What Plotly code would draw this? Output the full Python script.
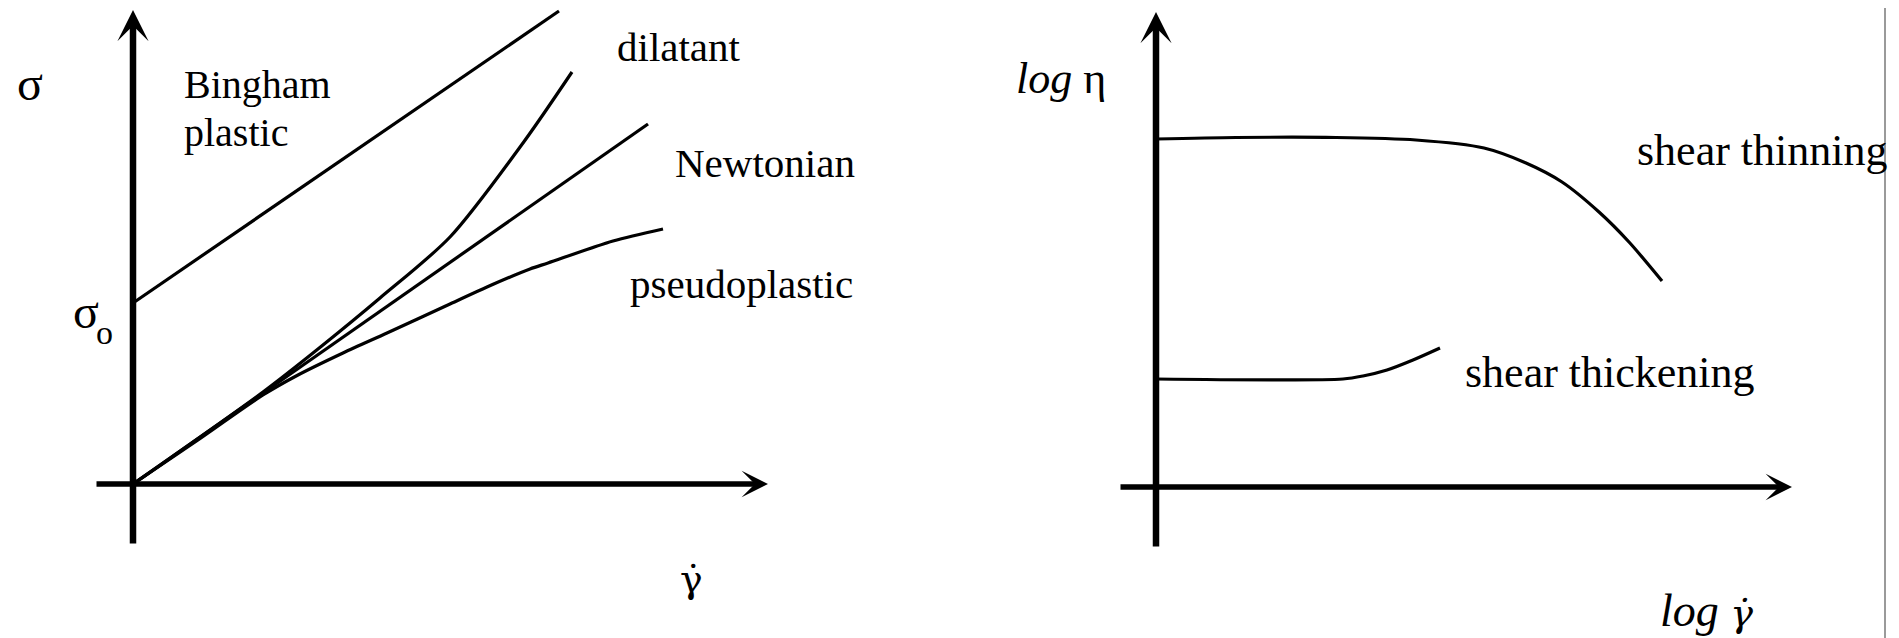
import plotly.graph_objects as go

W, H = 1899, 638
PX = 50  # pixels per data unit in both panels
FONT = "Liberation Serif"

# ---- Left panel: flow curves (shear stress vs shear rate), arbitrary units ----
newtonian_rate = [0.0, 10.3]
newtonian_stress = [0.0, 7.2]

bingham_rate = [0.0, 8.52]
bingham_stress = [3.62, 9.46]

dilatant_rate = [0.0, 2.6, 3.7, 4.94, 6.34, 7.8, 8.78]
dilatant_stress = [0.0, 1.84, 2.7, 3.72, 4.94, 6.82, 8.24]

pseudo_rate = [0.0, 1.3, 2.6, 3.3, 4.2, 5.08, 6.34, 7.08, 7.94, 8.3, 9.6, 10.6]
pseudo_stress = [0.0, 0.88, 1.78, 2.18, 2.62, 3.02, 3.6, 3.94, 4.3, 4.42, 4.86, 5.1]

# ---- Right panel: log viscosity vs log shear rate, arbitrary units ----
thinning_lograte = [0.0, 1.6, 3.6, 5.2, 6.56, 7.4, 8.12, 8.86, 9.46, 10.12]
thinning_logvisc = [6.96, 6.99, 6.99, 6.94, 6.78, 6.48, 6.1, 5.5, 4.9, 4.12]

thickening_lograte = [0.0, 3.74, 4.14, 4.62, 5.14, 5.68]
thickening_logvisc = [2.16, 2.16, 2.22, 2.34, 2.54, 2.78]

# axis extents (data units) for the hand-drawn arrow axes
left_x_axis = (-0.76, 12.7)
left_y_axis = (-1.22, 9.48)
right_x_axis = (-0.74, 12.72)
right_y_axis = (-1.22, 9.5)

# panel geometry: split column, and pixel position of each origin
SPLIT = 900
left_origin = (133, 484)
right_origin = (1156, 487)


def ranges(px0, px1, origin):
    ox, oy = origin
    xr = [(px0 - ox) / PX, (px1 - ox) / PX]
    yr = [(oy - H) / PX, oy / PX]
    return xr, yr


lxr, lyr = ranges(0, SPLIT, left_origin)
rxr, ryr = ranges(SPLIT, W, right_origin)

fig = go.Figure()

curve = dict(color="black", width=3.2)
smooth = dict(curve, shape="spline", smoothing=0.8)

fig.add_trace(go.Scatter(x=bingham_rate, y=bingham_stress, mode="lines",
                         line=curve, xaxis="x", yaxis="y"))
fig.add_trace(go.Scatter(x=newtonian_rate, y=newtonian_stress, mode="lines",
                         line=curve, xaxis="x", yaxis="y"))
fig.add_trace(go.Scatter(x=dilatant_rate, y=dilatant_stress, mode="lines",
                         line=smooth, xaxis="x", yaxis="y"))
fig.add_trace(go.Scatter(x=pseudo_rate, y=pseudo_stress, mode="lines",
                         line=smooth, xaxis="x", yaxis="y"))

fig.add_trace(go.Scatter(x=thinning_lograte, y=thinning_logvisc, mode="lines",
                         line=smooth, xaxis="x2", yaxis="y2"))
fig.add_trace(go.Scatter(x=thickening_lograte, y=thickening_logvisc, mode="lines",
                         line=smooth, xaxis="x2", yaxis="y2"))

ann = []


def arrow_axis(xref, yref, x0, y0, x1, y1, width):
    ann.append(dict(x=x1, y=y1, ax=x0, ay=y0, xref=xref, yref=yref,
                    axref=xref, ayref=yref, text="", showarrow=True,
                    arrowhead=3, arrowsize=0.8, arrowwidth=width,
                    arrowcolor="black", standoff=0))


arrow_axis("x", "y", left_x_axis[0], 0, left_x_axis[1], 0, 5.5)
arrow_axis("x", "y", 0, left_y_axis[0], 0, left_y_axis[1], 6.5)
arrow_axis("x2", "y2", right_x_axis[0], 0, right_x_axis[1], 0, 5.5)
arrow_axis("x2", "y2", 0, right_y_axis[0], 0, right_y_axis[1], 6.5)


def label(xref, yref, x, y, text, size, xanchor="left", family=FONT):
    ann.append(dict(x=x, y=y, xref=xref, yref=yref, text=text, showarrow=False,
                    xanchor=xanchor, yanchor="middle",
                    font=dict(family=family, size=size, color="black")))


# gamma with a combining dot above (shear rate); DejaVu places the mark over the glyph
GAMMA_DOT = "γ\u0307"
DOT_FONT = "DejaVu Serif"

# left panel labels
label("x", "y", -2.06, 8.02, "σ", 48, "center")
label("x", "y", -1.24, 3.46, "σ", 48)
label("x", "y", -0.78, 3.04, "o", 34)
label("x", "y", 0.98, 7.99, "Bingham", 40)
label("x", "y", 0.98, 7.03, "plastic", 40)
label("x", "y", 9.64, 8.74, "dilatant", 41)
label("x", "y", 10.8, 6.42, "Newtonian", 41)
label("x", "y", 9.9, 4.0, "pseudoplastic", 41)
label("x", "y", 11.16, -1.9, GAMMA_DOT, 38, "center", DOT_FONT)

# right panel labels
label("x2", "y2", -2.84, 8.17, "<i>log</i> η", 44)
label("x2", "y2", 9.58, 6.74, "shear thinning", 44)
label("x2", "y2", 6.14, 2.3, "shear thickening", 44)
label("x2", "y2", 10.04, -2.46,
      "<i>log </i><span style=\"font-family:DejaVu Serif;font-size:38px\"><i>"
      + GAMMA_DOT + "</i></span>", 46)

hidden = dict(visible=False, showgrid=False, zeroline=False, fixedrange=True)

fig.update_layout(
    width=W, height=H,
    margin=dict(l=0, r=0, t=0, b=0),
    paper_bgcolor="white", plot_bgcolor="white",
    showlegend=False,
    xaxis=dict(hidden, domain=[0, SPLIT / W], range=lxr),
    yaxis=dict(hidden, domain=[0, 1], range=lyr),
    xaxis2=dict(hidden, domain=[SPLIT / W, 1], range=rxr, anchor="y2"),
    yaxis2=dict(hidden, domain=[0, 1], range=ryr, anchor="x2"),
    annotations=ann,
    shapes=[dict(type="line", xref="paper", yref="paper",
                 x0=1885 / W, x1=1885 / W, y0=0, y1=(H - 8) / H,
                 line=dict(color="#9a9a9a", width=2))],
)

fig.write_html("out.html")
